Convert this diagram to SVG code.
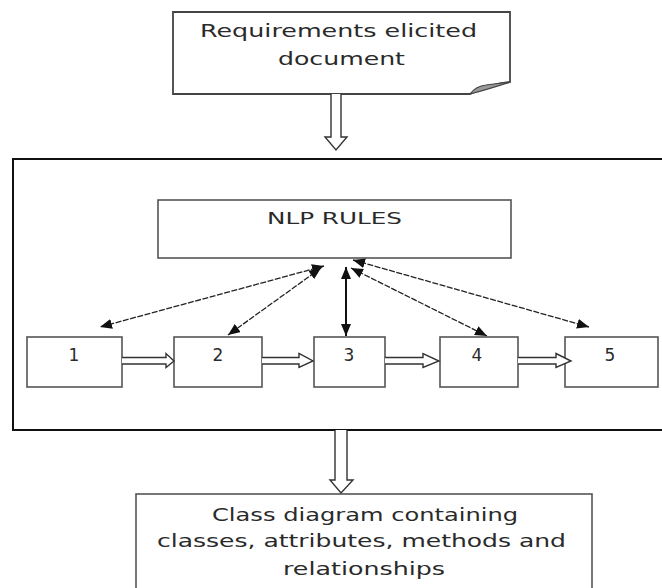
<svg xmlns="http://www.w3.org/2000/svg" width="662" height="588" viewBox="0 0 662 588">
<style>
  .t { font-family: "DejaVu Sans", "Liberation Sans", sans-serif; fill: #2a2a2a; text-anchor: start; }
  .c { text-anchor: middle; }
  .box { fill: #fff; stroke: #555; stroke-width: 1.6; }
  .hollow { fill: #fff; stroke: #333; stroke-width: 1.4; stroke-linejoin: miter; }
  .dl { stroke: #222; stroke-width: 1.3; stroke-dasharray: 6 1.5; fill: none; marker-start: url(#ah); marker-end: url(#ah); }
</style>
<defs>
  <marker id="ah" viewBox="0 0 12 10" refX="12" refY="5" markerWidth="12" markerHeight="10" markerUnits="userSpaceOnUse" orient="auto-start-reverse">
    <path d="M0,0 L12,5 L0,10 z" fill="#111"/>
  </marker>
</defs>
<rect width="662" height="588" fill="#fff"/>

<g id="doc">
  <path d="M173,12 H510 V82 Q490,84 470,94 H173 Z" fill="#fff" stroke="#444" stroke-width="1.8"/>
  <path d="M470,94 Q476,86 486,85 L510,82 Q492,88 470,94 Z" fill="#999" stroke="#444" stroke-width="1.2"/>
  <text class="t" x="200" y="37" font-size="17" textLength="277" lengthAdjust="spacingAndGlyphs">Requirements elicited</text>
  <text class="t" x="278" y="65" font-size="17" textLength="127" lengthAdjust="spacingAndGlyphs">document</text>
</g>

<g id="container">
  <rect x="13" y="159" width="670" height="271" fill="none" stroke="#111" stroke-width="2"/>
</g>

<g id="nlp">
  <rect x="158" y="200" width="353" height="58" class="box"/>
  <text class="t" x="267" y="224" font-size="16" textLength="135" lengthAdjust="spacingAndGlyphs">NLP RULES</text>
</g>

<g id="n1"><rect x="27" y="337" width="95" height="50" class="box"/><text class="t c" x="74" y="361" font-size="17">1</text></g>
<g id="n2"><rect x="174" y="337" width="88" height="50" class="box"/><text class="t c" x="218" y="361" font-size="17">2</text></g>
<g id="n3"><rect x="314" y="337" width="71" height="50" class="box"/><text class="t c" x="349" y="361" font-size="17">3</text></g>
<g id="n4"><rect x="440" y="337" width="78" height="50" class="box"/><text class="t c" x="477" y="361" font-size="17" fill="#4a2a3a">4</text></g>
<g id="n5"><rect x="565" y="337" width="93" height="50" class="box"/><text class="t c" x="610" y="361" font-size="17">5</text></g>

<g id="out">
  <rect x="136" y="494" width="456" height="110" class="box"/>
  <text class="t" x="212" y="521" font-size="17" textLength="306" lengthAdjust="spacingAndGlyphs">Class diagram containing</text>
  <text class="t" x="157" y="547" font-size="17" textLength="409" lengthAdjust="spacingAndGlyphs">classes, attributes, methods and</text>
  <text class="t" x="283" y="575" font-size="17" textLength="162" lengthAdjust="spacingAndGlyphs">relationships</text>
</g>

<g id="connectors">
  <path class="hollow" d="M331,94 V137 H325 L336,150 L347,137 H341 V94"/>
  <path class="hollow" d="M335,430 V480 H330 L341,493 L353,480 H347 V430"/>
  <path class="hollow" d="M122,357.5 H166 V353.5 L174,361 L166,367.5 V364 H122"/>
  <path class="hollow" d="M262,357.5 H299 V353.5 L313,361 L299,367.5 V364 H262"/>
  <path class="hollow" d="M385,357.5 H423 V353.5 L439,361 L423,367.5 V364 H385"/>
  <path class="hollow" d="M518,357.5 H556 V353.5 L571,361 L556,367.5 V364 H518"/>
  <line class="dl" x1="324" y1="266" x2="100" y2="327"/>
  <line class="dl" x1="321" y1="268" x2="228" y2="335"/>
  <line x1="346" y1="267" x2="346" y2="336" stroke="#111" stroke-width="2" marker-start="url(#ah)" marker-end="url(#ah)"/>
  <line class="dl" x1="351" y1="268" x2="487" y2="336"/>
  <line class="dl" x1="353" y1="260" x2="589" y2="327"/>
</g>
</svg>
